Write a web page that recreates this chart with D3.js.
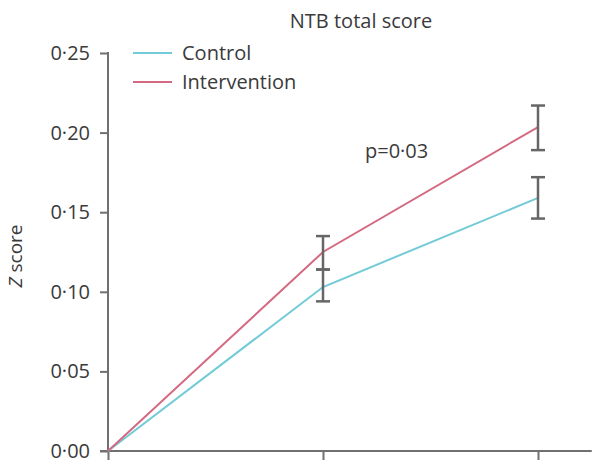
<!DOCTYPE html>
<html>
<head>
<meta charset="utf-8">
<script src="https://cdn.jsdelivr.net/npm/d3@7"></script>
<style>
  body { margin: 0; background: #fff; }
  text { font-family: "Open Sans", "Noto Sans", sans-serif; fill: #3a3a3a; }
</style>
</head>
<body>
<svg id="chart" width="597" height="472"></svg>
<script>
// time points (no labels on the x axis)
var timepoints = [0, 1, 2];
var seriesNames = ["Control", "Intervention"];
var control = [0, 0.103, 0.159];
var intervention = [0, 0.125, 0.2035];
// error bars (low / high), first point has none
var controlLow = [null, 0.094, 0.146];
var controlHigh = [null, 0.114, 0.172];
var interventionLow = [null, 0.114, 0.189];
var interventionHigh = [null, 0.135, 0.217];
var yTicks = [0, 0.05, 0.10, 0.15, 0.20, 0.25];

var colors = { Control: "#72cbd6", Intervention: "#d46a82" };
var axisColor = "#707070";

var svg = d3.select("#chart");

var x = d3.scaleLinear().domain([0, 2]).range([108, 538]);
var y = d3.scaleLinear().domain([0, 0.25]).range([451, 53]);

// lancet style decimal point
var fmt = function (d) { return d3.format(".2f")(d).replace(".", "\u00b7"); };

// y axis
var yAxis = svg.append("g")
    .attr("transform", "translate(108,0)")
    .call(d3.axisLeft(y).tickValues(yTicks).tickSize(8).tickSizeOuter(0).tickFormat(fmt));
yAxis.select(".domain").remove();
yAxis.selectAll("line").attr("stroke", axisColor).attr("stroke-width", 2);
yAxis.selectAll("text")
    .attr("x", -18)
    .style("font-size", "20px")
    .style("font-family", "'Open Sans', sans-serif")
    .attr("fill", "#444");

// x axis (ticks only, no labels)
var xAxis = svg.append("g")
    .attr("transform", "translate(0,451)")
    .call(d3.axisBottom(x).tickValues(timepoints).tickSize(9).tickFormat(""));
xAxis.select(".domain").remove();
xAxis.selectAll("line").attr("stroke", axisColor).attr("stroke-width", 2);

// axis lines
svg.append("line")
    .attr("x1", 108).attr("x2", 108)
    .attr("y1", y(0.25) - 1).attr("y2", y(0))
    .attr("stroke", axisColor).attr("stroke-width", 2);
svg.append("line")
    .attr("x1", 100).attr("x2", x(2.25))
    .attr("y1", y(0)).attr("y2", y(0))
    .attr("stroke", axisColor).attr("stroke-width", 2);

// lines
var line = d3.line()
    .x(function (d, i) { return x(timepoints[i]); })
    .y(function (d) { return y(d); });

svg.append("path").datum(control)
    .attr("d", line).attr("fill", "none")
    .attr("stroke", colors.Control).attr("stroke-width", 2);
svg.append("path").datum(intervention)
    .attr("d", line).attr("fill", "none")
    .attr("stroke", colors.Intervention).attr("stroke-width", 2);

// error bars
function errorBars(low, high) {
    timepoints.forEach(function (t, i) {
        if (low[i] === null) return;
        var g = svg.append("g").attr("stroke", "#666").attr("stroke-width", 2.5);
        g.append("line").attr("x1", x(t)).attr("x2", x(t)).attr("y1", y(low[i])).attr("y2", y(high[i]));
        g.append("line").attr("x1", x(t) - 7).attr("x2", x(t) + 7).attr("y1", y(low[i])).attr("y2", y(low[i]));
        g.append("line").attr("x1", x(t) - 7).attr("x2", x(t) + 7).attr("y1", y(high[i])).attr("y2", y(high[i]));
    });
}
errorBars(controlLow, controlHigh);
errorBars(interventionLow, interventionHigh);

// title
svg.append("text")
    .attr("x", 361).attr("y", 28)
    .attr("text-anchor", "middle")
    .style("font-size", "20px")
    .text("NTB total score");

// y label
svg.append("text")
    .attr("transform", "translate(22,256) rotate(-90)")
    .attr("text-anchor", "middle")
    .style("font-size", "19px")
    .html("<tspan font-style='italic'>Z</tspan> score");

// p value
svg.append("text")
    .attr("x", 365).attr("y", 158)
    .style("font-size", "20px")
    .text("p=0\u00b703");

// legend
var legend = svg.append("g");
seriesNames.forEach(function (name, i) {
    var ly = 53 + i * 29;
    legend.append("line")
        .attr("x1", 133).attr("x2", 172)
        .attr("y1", ly).attr("y2", ly)
        .attr("stroke", colors[name]).attr("stroke-width", 2);
    legend.append("text")
        .attr("x", 182).attr("y", ly)
        .attr("dy", "0.35em")
        .style("font-size", "20px")
        .text(name);
});
</script>
</body>
</html>
